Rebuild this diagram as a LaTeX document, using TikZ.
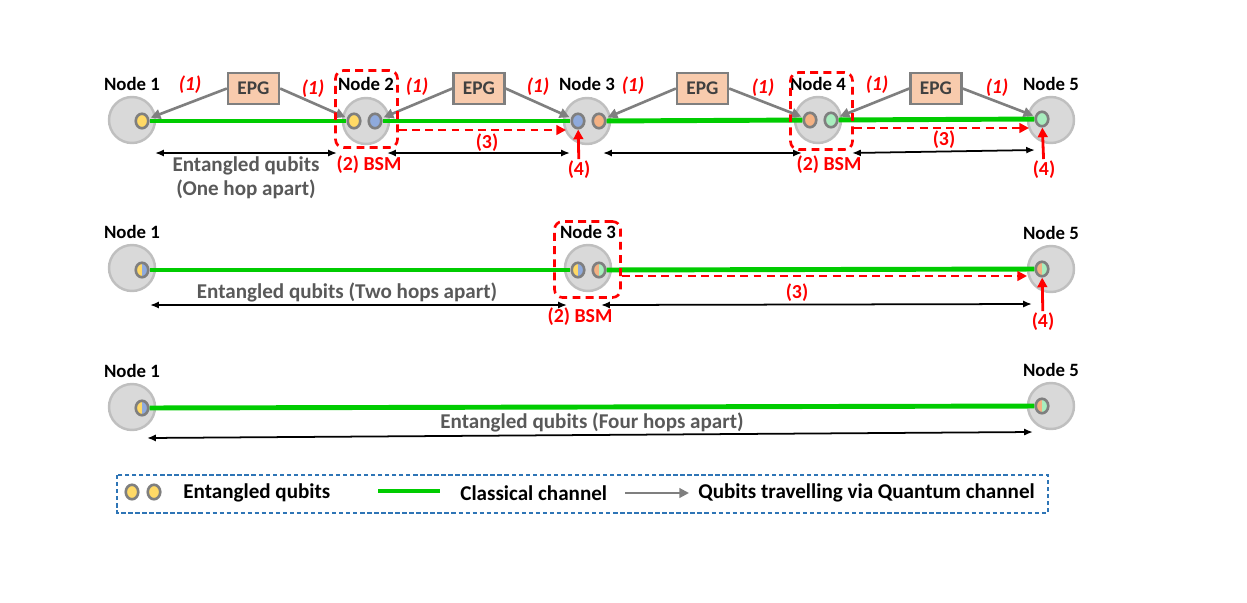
\documentclass[tikz,border=0pt]{standalone}
\usepackage{fontspec}
\setmainfont{Carlito}
\usetikzlibrary{arrows.meta,shapes.geometric,positioning}
\definecolor{hostfill}{HTML}{D9D9D9}
\definecolor{hostline}{HTML}{BFBFBF}
\definecolor{qline}{HTML}{7F7F7F}
\definecolor{qyellow}{HTML}{FFD966}
\definecolor{qblue}{HTML}{8FAADC}
\definecolor{qorange}{HTML}{F4B183}
\definecolor{qgreen}{HTML}{A8EDBE}
\definecolor{epgfill}{HTML}{F8CBAD}
\definecolor{classic}{HTML}{00CC00}
\definecolor{darktext}{HTML}{595959}
\definecolor{legendline}{HTML}{2E75B6}

\begin{document}
\begin{tikzpicture}[x=0.02cm, y=-0.02cm,
    host/.style={circle, draw=hostline, fill=hostfill, line width=1.4pt, minimum size=0.92cm, inner sep=0},
    qubit/.style={ellipse, draw=qline, fill=#1, line width=1.5pt, minimum width=0.25cm, minimum height=0.29cm, inner sep=0},
    halfqubit/.style 2 args={qubit=white, path picture={
        \fill[#1] (path picture bounding box.south west) rectangle (path picture bounding box.north);
        \fill[#2] (path picture bounding box.south) rectangle (path picture bounding box.north east);}},
    hostlabel/.style={font=\fontsize{10.7}{12}\selectfont\bfseries, inner sep=0},
    epg/.style={rectangle, draw=qline, fill=epgfill, line width=1.3pt, minimum width=1.02cm, minimum height=0.62cm,
        font=\fontsize{11}{12}\selectfont\bfseries, text=black!75},
    bsm/.style={rectangle, draw=red, dash pattern=on 4.5pt off 3pt, line width=1.5pt, rounded corners=0.16cm},
    redlabel/.style={text=red, font=\fontsize{11.3}{12}\selectfont\bfseries, inner sep=1pt},
    steplabel/.style={text=red, font=\fontsize{11.3}{12}\selectfont\bfseries\itshape, inner sep=0},
    greytext/.style={text=darktext, font=\fontsize{12}{13.5}\selectfont\bfseries, align=center},
    classical/.style={classic, line width=2.8pt},
    quantum/.style={qline, line width=1.5pt, -{Triangle[length=5.5pt,width=5.5pt]}, shorten >=1pt},
    signal/.style={red, line width=1.5pt, dash pattern=on 4.5pt off 3pt, -{Triangle[length=5.5pt,width=5.5pt]}},
    swapped/.style={red, line width=1.6pt, -{Triangle[length=5.5pt,width=5.5pt]}},
    span/.style={black, line width=1pt, {Latex[length=5pt,width=4pt]}-{Latex[length=5pt,width=4pt]}}]
\useasboundingbox (0,0) rectangle (1247,602);

% Row 1: one hop
\node[host] (a1) at (132,120) {};
\node[host] (a2) at (366,121) {};
\node[host] (a3) at (587,121) {};
\node[host] (a4) at (818,120) {};
\node[host] (a5) at (1051,120) {};
\node[hostlabel, above=0.1cm of a1] {Node 1};
\node[hostlabel, above=0.12cm of a2] {Node 2};
\node[hostlabel, above=0.12cm of a3] {Node 3};
\node[hostlabel, above=0.1cm of a4] {Node 4};
\node[hostlabel, above=0.1cm of a5] {Node 5};

\node[qubit=qyellow] (q1) at (142,121) {};
\node[qubit=qyellow] (q2a) at (354,121) {};
\node[qubit=qblue] (q2b) at (375,121) {};
\node[qubit=qblue] (q3a) at (578,121) {};
\node[qubit=qorange] (q3b) at (599,121) {};
\node[qubit=qorange] (q4a) at (810,120) {};
\node[qubit=qgreen] (q4b) at (831,120) {};
\node[qubit=qgreen] (q5) at (1042,119) {};

\draw[classical] (q1) -- (q2a);
\draw[classical] (q2b) -- (q3a);
\draw[classical] (q3b) -- (q4a);
\draw[classical] (q4b) -- (q5);

% EPG sources
\node[epg] (e1) at (253.5,88.5) {EPG};
\node[epg] (e2) at (479,88.5) {EPG};
\node[epg] (e3) at (702.5,88.5) {EPG};
\node[epg] (e4) at (936,88.5) {EPG};
\draw[quantum] (e1.west) -- (q1);
\draw[quantum] (e1.east) -- (q2a);
\draw[quantum] (e2.west) -- (q2b);
\draw[quantum] (e2.east) -- (q3a);
\draw[quantum] (e3.west) -- (q3b);
\draw[quantum] (e3.east) -- (q4a);
\draw[quantum] (e4.west) -- (q4b);
\draw[quantum] (e4.east) -- (q5);
\node[steplabel] at (190,85) {(1)};
\node[steplabel] at (313,89) {(1)};
\node[steplabel] at (417,87) {(1)};
\node[steplabel] at (538,87) {(1)};
\node[steplabel] at (633,86) {(1)};
\node[steplabel] at (763,88) {(1)};
\node[steplabel] at (877,85) {(1)};
\node[steplabel] at (997,88) {(1)};

% BSM at nodes 2 and 4
\node[bsm, minimum width=1.24cm, minimum height=1.54cm] (b2) at (366.5,109) {};
\node[bsm, minimum width=1.24cm, minimum height=1.54cm] (b4) at (821.5,111) {};
\node[redlabel] at (369,165) {(2) BSM};
\node[redlabel] at (829,165) {(2) BSM};
\coordinate (c3a) at (566,130);
\coordinate (c5a) at (1029,128);
\draw[signal] (b2.east |- c3a) -- (c3a);
\draw[signal] (b4.east |- c5a) -- (c5a);
\node[redlabel] at (487,143) {(3)};
\node[redlabel] at (944,140) {(3)};
\node[redlabel] (s3) at (579,170) {(4)};
\node[redlabel] (s5) at (1044,170) {(4)};
\draw[swapped] (s3) -- (q3a);
\draw[swapped] (s5) -- (q5);

\draw[span] (155,153) -- (337,153);
\draw[span] (387,153) -- (570,153);
\draw[span] (603,153) -- (802,153);
\draw[span] (852,153) -- (1035,150);
\node[greytext] at (246,178) {Entangled qubits\\(One hop apart)};

% Row 2: two hops
\node[host] (m1) at (132,268) {};
\node[host] (m3) at (588,268) {};
\node[host] (m5) at (1051,269) {};
\node[hostlabel, above=0.1cm of m1] {Node 1};
\node[hostlabel, above=0.1cm of m3] {Node 3};
\node[hostlabel, above=0.1cm of m5] {Node 5};
\node[halfqubit={qyellow}{qblue}] (r1) at (142,270) {};
\node[halfqubit={qyellow}{qblue}] (r3a) at (578,270) {};
\node[halfqubit={qorange}{qgreen}] (r3b) at (599,270) {};
\node[halfqubit={qorange}{qgreen}] (r5) at (1042,269) {};
\draw[classical] (r1) -- (r3a);
\draw[classical] (r3b) -- (r5);
\node[bsm, minimum width=1.32cm, minimum height=1.52cm] (b3) at (587.5,259.5) {};
\node[redlabel] at (580,317) {(2) BSM};
\coordinate (c5b) at (1027,276);
\draw[signal] (b3.east |- c5b) -- (c5b);
\node[redlabel] at (797,293) {(3)};
\node[redlabel] (s5b) at (1043,322) {(4)};
\draw[swapped] (s5b) -- (r5);
\draw[span] (150,305) -- (567,305);
\draw[span] (601,305) -- (1032,304);
\node[greytext] at (347,292) {Entangled qubits (Two hops apart)};

% Row 3: four hops
\node[host] (f1) at (132,407) {};
\node[host] (f5) at (1051,406) {};
\node[hostlabel, above=0.1cm of f1] {Node 1};
\node[hostlabel, above=0.1cm of f5] {Node 5};
\node[halfqubit={qyellow}{qblue}] (t1) at (142,408) {};
\node[halfqubit={qorange}{qgreen}] (t5) at (1042,406) {};
\draw[classical] (t1) -- (t5);
\draw[span] (147,438) -- (1033,432);
\node[greytext] at (592,422) {Entangled qubits (Four hops apart)};

% Legend
\draw[legendline, line width=0.8pt, dash pattern=on 2.5pt off 1.5pt] (117,475) rectangle (1048,513);
\node[qubit=qyellow] (k1) at (132,492) {};
\node[qubit=qyellow] (k2) at (154,492) {};
\node[anchor=west, inner sep=0, font=\fontsize{12}{13}\selectfont\bfseries] (k3) at (183,493) {Entangled qubits};
\coordinate (g1) at (378,491);
\coordinate (g2) at (440,491);
\draw[classical] (g1) -- (g2);
\node[anchor=west, inner sep=0, font=\fontsize{12}{13}\selectfont\bfseries] (k4) at (460,493) {Classical channel};
\coordinate (h1) at (625,493);
\coordinate (h2) at (689,493);
\draw[quantum, line width=1.2pt, shorten >=0pt] (h1) -- (h2);
\node[anchor=west, inner sep=0, font=\fontsize{12}{13}\selectfont\bfseries] (k5) at (698,493) {Qubits travelling via Quantum channel};
\end{tikzpicture}
\end{document}
